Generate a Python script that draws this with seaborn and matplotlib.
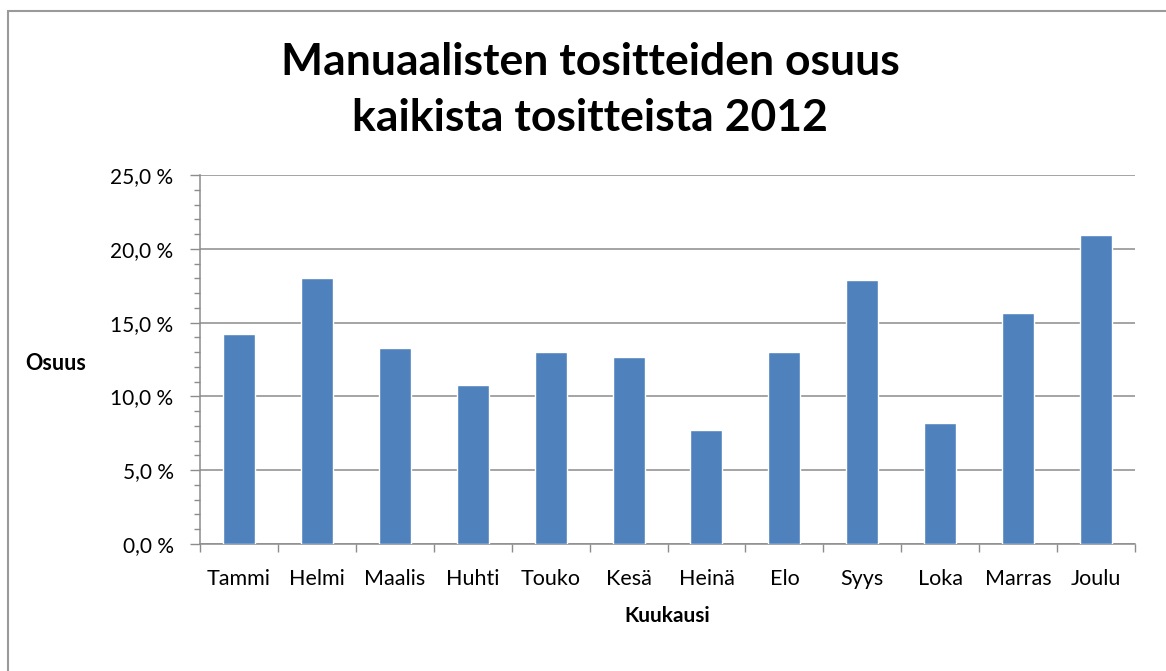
import matplotlib
matplotlib.use("Agg")
import matplotlib.pyplot as plt
import seaborn as sns
import pandas as pd
from matplotlib.ticker import MultipleLocator, FuncFormatter, FixedLocator, NullFormatter
from matplotlib.patches import Rectangle

months = ["Tammi", "Helmi", "Maalis", "Huhti", "Touko", "Kesä",
          "Heinä", "Elo", "Syys", "Loka", "Marras", "Joulu"]
share = [14.2, 18.0, 13.3, 10.8, 13.0, 12.7, 7.7, 13.0, 17.9, 8.2, 15.65, 20.95]

title = "Manuaalisten tositteiden osuus\nkaikista tositteista 2012"
xlabel = "Kuukausi"
ylabel = "Osuus"

sns.set_style("white")
plt.rcParams["font.family"] = ["Lato", "DejaVu Sans"]
plt.rcParams["text.color"] = "black"
plt.rcParams["axes.labelcolor"] = "black"

df = pd.DataFrame({"Kuukausi": months, "Osuus": share})

fig = plt.figure(figsize=(11.66, 6.71), dpi=100)
ax = fig.add_axes([200/1166, 1-544/671, 935/1166, 369/671])

sns.barplot(data=df, x="Kuukausi", y="Osuus", color="#4F81BD", width=0.41,
            saturation=1, ax=ax, zorder=3)

ax.set_ylim(0, 25)
ax.set_xlim(-0.5, len(months) - 0.5)
ax.yaxis.set_major_locator(MultipleLocator(5))
ax.yaxis.set_minor_locator(MultipleLocator(1))
ax.yaxis.set_major_formatter(FuncFormatter(lambda v, p: f"{v:.1f}".replace(".", ",") + " %"))
ax.grid(axis="y", which="major", color="#8c8c8c", linewidth=1.1, zorder=0)
ax.set_axisbelow(True)

# x ticks: labels at centers, tick marks at boundaries
ax.set_xticks(range(len(months)))
ax.set_xticklabels(months)
ax.xaxis.set_minor_locator(FixedLocator([i - 0.5 for i in range(len(months) + 1)]))
ax.xaxis.set_minor_formatter(NullFormatter())
ax.tick_params(axis="x", which="major", length=0, pad=18, labelsize=15.5, labelcolor="black")
ax.tick_params(axis="x", which="minor", length=6, width=1, color="#8c8c8c", direction="out", bottom=True)
ax.tick_params(axis="y", which="major", length=7, width=1, color="#8c8c8c", direction="out", left=True,
               labelsize=15, pad=12, labelcolor="black")
ax.tick_params(axis="y", which="minor", length=4, width=1, color="#8c8c8c", direction="out", left=True)

for s in ["top", "right"]:
    ax.spines[s].set_visible(False)
for s in ["left", "bottom"]:
    ax.spines[s].set_color("#8c8c8c")
    ax.spines[s].set_linewidth(1.1)

ax.set_xlabel(xlabel, fontsize=15, fontweight="bold", labelpad=12, color="black")
ax.set_ylabel("")
fig.text(25/1166, 1-363/671, ylabel, fontsize=15.5, fontweight="bold", ha="left", va="center",
         color="black")

fig.text(590/1166, 1-90/671, title, fontsize=32, fontweight="bold", ha="center", va="center",
         linespacing=1.5, color="black")

# outer frame
fig.patches.append(Rectangle((8/1166, -0.1), 1.2, 1-11/671 + 0.1, transform=fig.transFigure,
                             fill=False, edgecolor="#9a9a9a", linewidth=1.5))

fig.savefig("out.png", dpi=100)
